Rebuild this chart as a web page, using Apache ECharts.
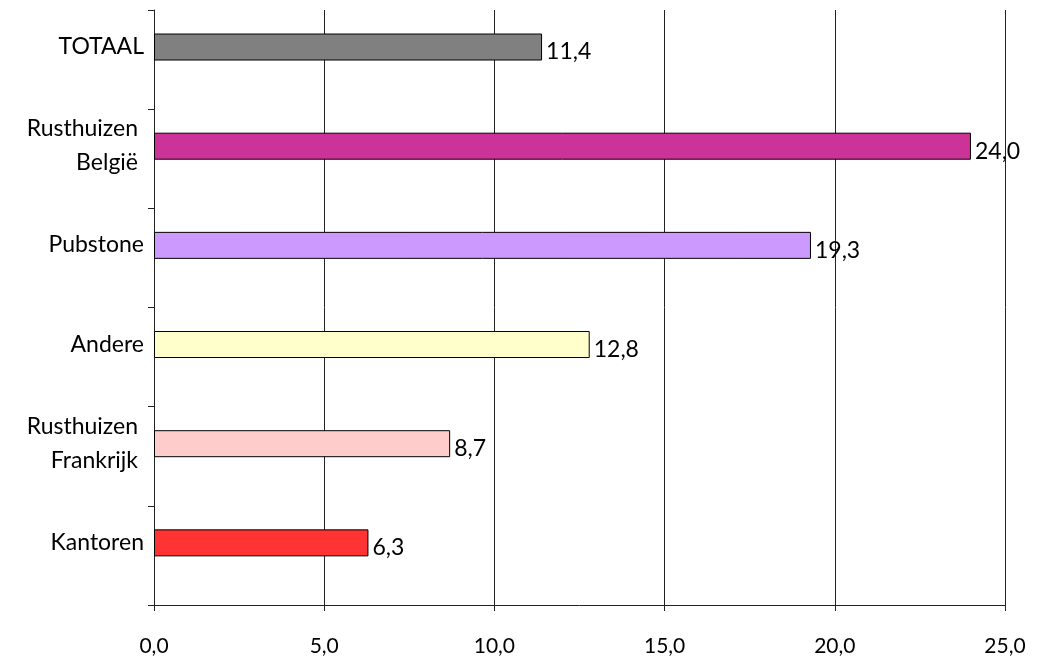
<!DOCTYPE html>
<html><head><meta charset="utf-8">
<script src="https://cdn.jsdelivr.net/npm/echarts@6/dist/echarts.min.js"></script>
<style>html,body{margin:0;padding:0;background:#fff}#c{width:1039px;height:661px}</style>
</head><body><div id="c"></div>
<script>
const categories = ['TOTAAL', 'Rusthuizen\nBelgië', 'Pubstone', 'Andere', 'Rusthuizen\nFrankrijk', 'Kantoren'];
const values = [11.4, 24.0, 19.3, 12.8, 8.7, 6.3];
const barColors = ['#808080', '#CC3399', '#CC99FF', '#FFFFCC', '#FFCCCC', '#FF3333'];
const xTicks = [0, 5, 10, 15, 20, 25];

const fmt = v => Number(v).toFixed(1).replace('.', ',');
const FONT = 'Lato';
const chart = echarts.init(document.getElementById('c'));
chart.setOption({
  animation: false,
  grid: { left: 154, right: 34, top: 10, bottom: 56, containLabel: false },
  xAxis: {
    type: 'value', min: xTicks[0], max: xTicks[xTicks.length - 1], interval: 5,
    axisLine: { show: true, lineStyle: { color: '#222', width: 1 } },
    axisTick: { show: true, length: 6, lineStyle: { color: '#222' } },
    axisLabel: { formatter: fmt, margin: 31, fontFamily: FONT, fontSize: 21, color: '#000' },
    splitLine: { show: true, lineStyle: { color: '#222', width: 1 } }
  },
  yAxis: {
    type: 'category', inverse: true, data: categories,
    axisLine: { show: true, lineStyle: { color: '#222', width: 1 } },
    axisTick: { show: true, length: 6, alignWithLabel: false, lineStyle: { color: '#222' } },
    axisLabel: {
      margin: 10, color: '#000',
      formatter: v => {
        const parts = v.split('\n');
        const st = parts.length > 1 ? 'm' : 'l';
        return parts.map(s => '{' + st + '|' + s + '}').join('\n') + '\n{s| }';
      },
      rich: {
        l: { fontFamily: FONT, fontSize: 23, color: '#000', lineHeight: 30, align: 'right' },
        m: { fontFamily: FONT, fontSize: 23, color: '#000', lineHeight: 34, align: 'right', padding: [0, 6, 0, 0] },
        s: { fontSize: 1, lineHeight: 26, align: 'right' }
      }
    },
    splitLine: { show: false }
  },
  series: [
    {
      type: 'bar', barWidth: 27, barGap: '-7%',
      data: values.map((v, i) => ({ value: v, itemStyle: { color: barColors[i] } })),
      itemStyle: { borderColor: '#000', borderWidth: 1 },
      label: { show: true, position: 'right', distance: 4, formatter: p => fmt(p.value),
        fontFamily: FONT, fontSize: 23, color: '#000', offset: [0, 5] }
    },
    {
      type: 'bar', barWidth: 27, data: values.map(() => null)
    }
  ]
});
</script></body></html>
